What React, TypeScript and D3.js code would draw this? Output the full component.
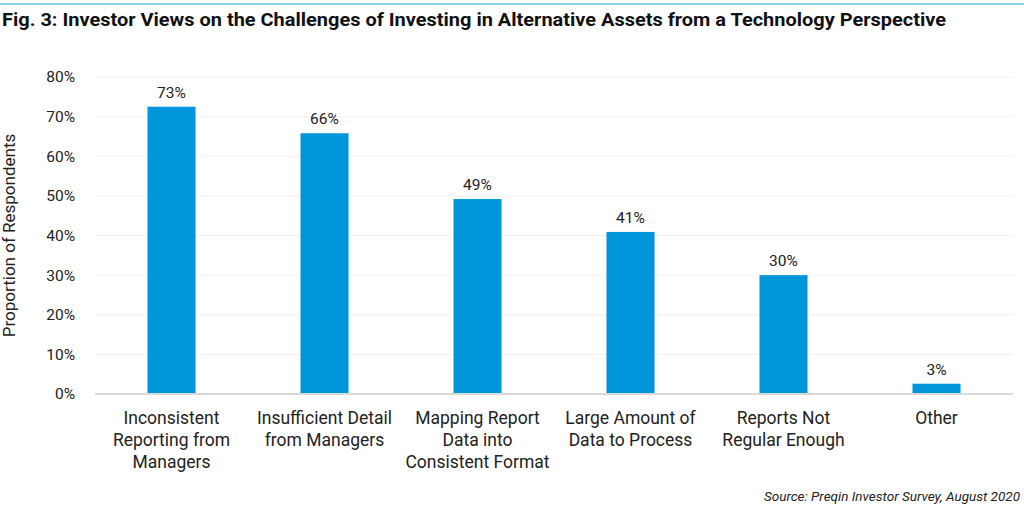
import React from "react";
import * as d3 from "d3";

const categories: string[][] = [
  ["Inconsistent", "Reporting from", "Managers"],
  ["Insufficient Detail", "from Managers"],
  ["Mapping Report", "Data into", "Consistent Format"],
  ["Large Amount of", "Data to Process"],
  ["Reports Not", "Regular Enough"],
  ["Other"],
];
const values: number[] = [72.5, 65.8, 49.2, 40.9, 30.0, 2.6];
const valueLabels: string[] = ["73%", "66%", "49%", "41%", "30%", "3%"];
const yTicks: number[] = [0, 10, 20, 30, 40, 50, 60, 70, 80];

const W = 1024;
const H = 512;
const margin = { left: 95, right: 11, top: 77, bottom: 118 };
const FONT = "Roboto, 'DejaVu Sans', sans-serif";

export default function App() {
  const x = d3
    .scaleBand<number>()
    .domain(d3.range(values.length))
    .range([margin.left, W - margin.right])
    .paddingInner(0.686)
    .paddingOuter(0.343);
  const y = d3.scaleLinear().domain([0, 80]).range([H - margin.bottom, margin.top]);

  return (
    <svg
      width={W}
      height={H}
      style={{ position: "absolute", left: 0, top: 0, background: "#fff" }}
      fontFamily={FONT}
    >
      <line x1={0} x2={W} y1={4} y2={4} stroke="#6cc0ea" strokeWidth={1.5} />
      <text x={2} y={26} fontSize={17.5} fontWeight={700} fill="#111" textLength={944} lengthAdjust="spacingAndGlyphs">
        Fig. 3: Investor Views on the Challenges of Investing in Alternative Assets from a Technology Perspective
      </text>

      {yTicks.map((t) => (
        <g key={t}>
          {t > 0 && (
            <line x1={margin.left} x2={W - margin.right} y1={y(t)} y2={y(t)} stroke="#f0f0f0" strokeWidth={1} />
          )}
          <text x={75} y={y(t)} dy="0.35em" textAnchor="end" fontSize={15.5} fill="#222">
            {t}%
          </text>
        </g>
      ))}

      <text
        transform={`translate(15, ${(y(0) + y(80)) / 2}) rotate(-90)`}
        textAnchor="middle"
        fontSize={17}
        fill="#222"
      >
        Proportion of Respondents
      </text>

      {values.map((v, i) => (
        <g key={i}>
          <rect x={x(i)} y={y(v)} width={x.bandwidth()} height={y(0) - y(v)} fill="#0096d9" />
          <text x={(x(i) as number) + x.bandwidth() / 2} y={y(v) - 9} textAnchor="middle" fontSize={15.5} fill="#222">
            {valueLabels[i]}
          </text>
          {categories[i].map((line, j) => (
            <text
              key={j}
              x={(x(i) as number) + x.bandwidth() / 2}
              y={424 + j * 22}
              textAnchor="middle"
              fontSize={17.5}
              fill="#222"
            >
              {line}
            </text>
          ))}
        </g>
      ))}

      <line x1={margin.left} x2={W - margin.right} y1={y(0)} y2={y(0)} stroke="#d9d9d9" strokeWidth={2} />

      <text x={1020} y={501} textAnchor="end" fontSize={13.5} fontStyle="italic" fill="#222">
        Source: Preqin Investor Survey, August 2020
      </text>
    </svg>
  );
}
